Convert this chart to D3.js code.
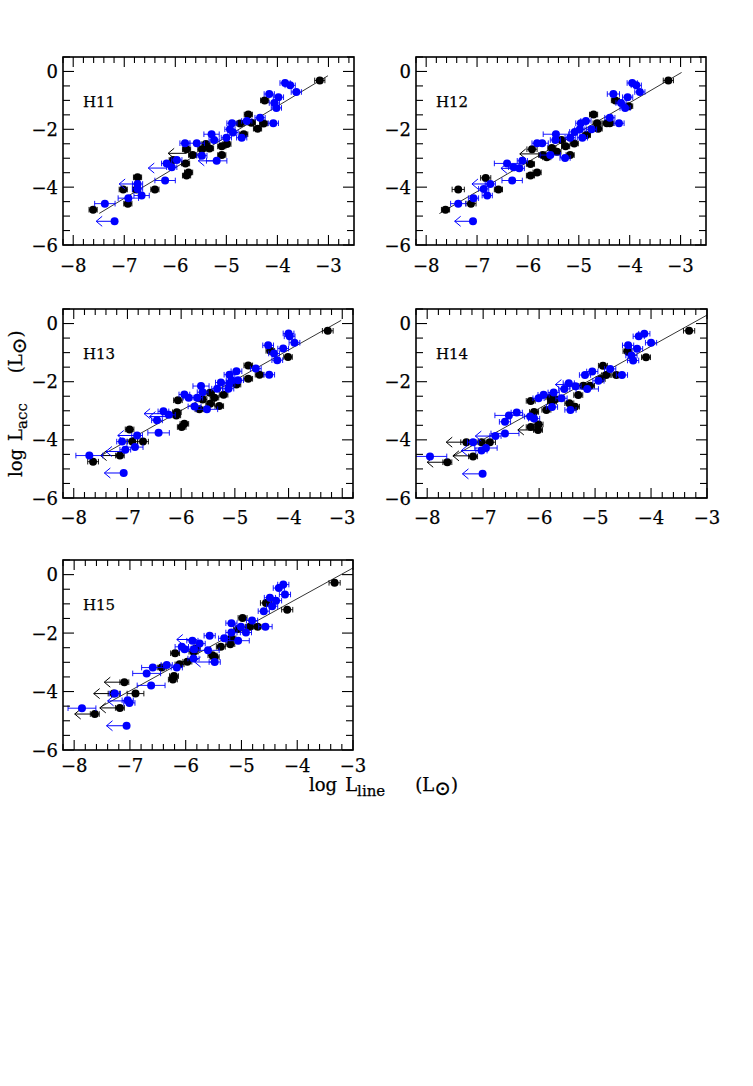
<!DOCTYPE html>
<html><head><meta charset="utf-8">
<script src="https://cdn.jsdelivr.net/npm/d3@7"></script>
<style>
body{margin:0;background:#fff}
svg{display:block}
text{font-family:"DejaVu Serif","Liberation Serif",serif;fill:#000;stroke:#000;stroke-width:0.25}
</style>
</head><body>
<svg id="chart" width="753" height="1086"></svg>
<script>
// ---------------- DATA ----------------
const panelNames = ["H11","H12","H13","H14","H15"];
const xTickValues = [-8,-7,-6,-5,-4,-3];
const yTickValues = [0,-2,-4,-6];

// [log Lline, log Lacc, error on log Lline]
const h11Black = [[-3.17,-0.31,0.1],[-4.25,-1.00,0.08],[-4.57,-1.49,0.08],[-4.73,-1.80,0.08],[-4.51,-1.77,0.08],
 [-4.39,-1.98,0.08],[-4.27,-1.80,0.08],[-4.66,-2.17,0.08],[-4.99,-2.51,0.08],[-5.09,-2.59,0.08],[-5.09,-2.89,0.08],
 [-5.33,-2.66,0.08],[-5.40,-2.51,0.08],[-5.48,-2.69,0.08],[-5.66,-2.89,0.08],[-5.78,-2.69,0.08],[-5.80,-3.18,0.08],
 [-5.74,-3.49,0.08],[-5.78,-3.60,0.08],[-6.04,-3.06,0.08],[-6.74,-3.66,0.08],[-7.02,-4.08,0.08],[-6.76,-4.08,0.08],
 [-6.40,-4.08,0.08],[-6.93,-4.57,0.08],[-7.61,-4.78,0.08]];
const h11Blue = [[-3.85,-0.40,0.1],[-3.75,-0.48,0.1],[-3.63,-0.71,0.1],[-4.16,-0.78,0.1],[-3.98,-0.89,0.1],
 [-4.06,-1.09,0.1],[-4.02,-1.26,0.1],[-4.34,-1.60,0.1],[-4.60,-1.71,0.1],[-4.89,-1.79,0.1],[-4.08,-1.79,0.1],
 [-4.93,-2.00,0.1],[-4.87,-2.11,0.1],[-4.70,-2.29,0.1],[-5.00,-2.29,0.1],[-5.29,-2.17,0.15],[-5.24,-2.37,0.1],
 [-5.81,-2.48,0.1],[-5.58,-2.48,0.15],[-5.48,-2.91,0.1],[-5.19,-3.09,0.2],[-5.97,-3.06,0.1],[-6.17,-3.18,0.1],
 [-6.07,-3.31,0.1],[-6.20,-3.77,0.2],[-6.74,-3.89,0.1],[-6.74,-4.06,0.1],[-6.66,-4.29,0.15],[-6.92,-4.38,0.2],
 [-7.38,-4.57,0.2],[-7.19,-5.18,0]];
const h11BlackLim = [[-5.78,-2.83]];
const h11BlueLim = [[-7.19,-5.18],[-6.74,-3.89],[-6.17,-3.34],[-5.19,-3.09]];
const h11Fit = [1.0625,3.05,-7.49,-3.01]; // slope, intercept, x from, x to

const h12Black = [[-3.24,-0.31,0.1],[-4.28,-1.00,0.08],[-4.02,-1.20,0.08],[-4.71,-1.49,0.08],[-4.64,-1.79,0.08],
 [-4.45,-1.79,0.08],[-4.39,-1.79,0.08],[-4.62,-1.98,0.08],[-4.85,-2.20,0.08],[-5.09,-2.49,0.08],[-5.26,-2.59,0.08],
 [-5.34,-2.37,0.08],[-5.17,-2.89,0.08],[-5.43,-2.78,0.08],[-5.53,-2.65,0.08],[-5.71,-2.89,0.08],[-5.63,-2.97,0.08],
 [-5.92,-2.69,0.1],[-5.95,-3.20,0.08],[-5.82,-3.49,0.08],[-5.95,-3.60,0.08],[-6.83,-3.68,0.1],[-7.37,-4.08,0.12],
 [-6.58,-4.08,0.08],[-7.12,-4.57,0.1],[-7.62,-4.78,0.08]];
const h12Blue = [[-3.95,-0.40,0.1],[-3.87,-0.48,0.1],[-3.80,-0.71,0.1],[-4.32,-0.78,0.12],[-4.04,-0.89,0.1],
 [-4.17,-1.09,0.1],[-4.09,-1.26,0.1],[-4.39,-1.60,0.1],[-4.86,-1.71,0.1],[-4.96,-1.79,0.1],[-4.21,-1.79,0.1],
 [-4.98,-2.00,0.1],[-5.08,-2.09,0.1],[-4.75,-2.00,0.1],[-4.93,-2.29,0.1],[-5.17,-2.29,0.1],[-5.45,-2.17,0.25],
 [-5.46,-2.37,0.1],[-5.72,-2.48,0.12],[-5.82,-2.48,0.1],[-5.56,-2.89,0.2],[-5.27,-2.99,0.1],[-6.11,-3.09,0.1],
 [-6.41,-3.18,0.25],[-6.28,-3.31,0.1],[-6.17,-3.35,0.1],[-6.31,-3.77,0.2],[-6.74,-3.89,0.1],[-6.87,-4.06,0.1],
 [-6.80,-4.29,0.1],[-7.07,-4.38,0.1],[-7.37,-4.57,0.15],[-7.08,-5.18,0]];
const h12BlackLim = [[-5.80,-2.85]];
const h12BlueLim = [[-7.08,-5.18],[-6.74,-3.89],[-6.17,-3.35]];
const h12Fit = [1.025,3.02,-7.74,-2.98];

const h13Black = [[-3.27,-0.25,0.1],[-4.01,-1.15,0.08],[-4.34,-0.94,0.08],[-4.75,-1.44,0.08],[-4.54,-1.76,0.08],
 [-4.75,-1.90,0.08],[-4.97,-2.10,0.08],[-5.21,-2.45,0.08],[-5.29,-2.84,0.08],[-5.38,-2.55,0.08],[-5.46,-2.38,0.08],
 [-5.46,-2.76,0.08],[-5.60,-2.61,0.08],[-5.66,-2.95,0.08],[-6.06,-2.64,0.08],[-6.08,-3.05,0.08],[-6.09,-3.16,0.08],
 [-5.94,-3.45,0.08],[-5.99,-3.56,0.08],[-6.96,-3.64,0.08],[-6.91,-4.06,0.1],[-6.71,-4.06,0.1],[-7.14,-4.54,0.08],
 [-7.64,-4.75,0.1]];
const h13Blue = [[-4.00,-0.34,0.1],[-3.98,-0.44,0.1],[-3.89,-0.66,0.1],[-4.38,-0.75,0.1],[-4.10,-0.86,0.1],
 [-4.27,-1.03,0.1],[-4.21,-1.26,0.1],[-4.61,-1.55,0.1],[-4.97,-1.64,0.1],[-5.10,-1.76,0.1],[-4.36,-1.76,0.1],
 [-4.94,-1.95,0.1],[-5.06,-1.95,0.1],[-5.10,-2.07,0.1],[-5.26,-2.03,0.1],[-5.12,-2.24,0.1],[-5.33,-2.24,0.1],
 [-5.63,-2.15,0.15],[-5.60,-2.36,0.1],[-5.94,-2.44,0.1],[-5.86,-2.55,0.1],[-5.70,-2.55,0.1],[-5.75,-2.85,0.12],
 [-5.52,-2.95,0.2],[-6.33,-3.02,0.1],[-6.23,-3.14,0.12],[-6.45,-3.33,0.1],[-6.42,-3.76,0.2],[-6.82,-3.85,0.1],
 [-7.10,-4.06,0.1],[-6.86,-4.25,0.15],[-7.04,-4.34,0.1],[-7.71,-4.54,0.25],[-7.07,-5.14,0]];
const h13BlackLim = [[-7.14,-4.54]];
const h13BlueLim = [[-7.07,-5.14],[-6.82,-3.85],[-6.33,-3.10],[-6.23,-3.20],[-7.04,-4.40]];
const h13Fit = [1.04,3.25,-7.49,-3.02];

const h14Black = [[-3.32,-0.25,0.1],[-4.09,-1.16,0.08],[-4.42,-0.95,0.08],[-4.86,-1.45,0.08],[-4.62,-1.77,0.08],
 [-4.80,-1.77,0.08],[-4.90,-1.91,0.08],[-5.09,-2.14,0.08],[-5.21,-2.14,0.08],[-5.30,-2.46,0.08],[-5.36,-2.86,0.08],
 [-5.46,-2.74,0.08],[-5.71,-2.60,0.08],[-5.77,-2.69,0.08],[-5.80,-2.54,0.08],[-5.87,-2.97,0.08],[-6.15,-2.66,0.08],
 [-6.09,-3.04,0.08],[-6.01,-3.47,0.08],[-6.15,-3.56,0.08],[-6.02,-3.66,0.08],[-7.30,-4.08,0.1],[-6.88,-4.08,0.1],
 [-7.18,-4.57,0.08],[-7.64,-4.77,0.08],[-7.03,-4.08,0.08]];
const h14Blue = [[-4.12,-0.35,0.1],[-4.22,-0.44,0.1],[-4.00,-0.66,0.1],[-4.41,-0.75,0.1],[-4.25,-0.87,0.1],
 [-4.35,-1.10,0.1],[-4.32,-1.27,0.1],[-4.73,-1.56,0.1],[-5.05,-1.65,0.1],[-5.18,-1.77,0.1],[-4.52,-1.77,0.1],
 [-4.94,-1.97,0.1],[-5.14,-2.25,0.2],[-5.47,-2.05,0.1],[-5.35,-2.16,0.1],[-5.55,-2.25,0.1],[-5.74,-2.37,0.1],
 [-5.92,-2.45,0.1],[-6.01,-2.57,0.1],[-5.60,-2.57,0.1],[-5.77,-2.87,0.1],[-5.44,-2.97,0.1],[-6.40,-3.06,0.1],
 [-6.54,-3.16,0.25],[-6.16,-3.20,0.1],[-6.09,-3.27,0.1],[-6.61,-3.38,0.1],[-6.61,-3.78,0.25],[-6.78,-3.87,0.1],
 [-7.18,-4.08,0.1],[-6.95,-4.28,0.2],[-7.03,-4.37,0.1],[-7.95,-4.57,0.3],[-7.01,-5.17,0]];
const h14BlackLim = [[-7.30,-4.08],[-7.64,-4.77],[-7.18,-4.55],[-6.02,-3.66]];
const h14BlueLim = [[-7.01,-5.17],[-6.78,-3.87],[-7.03,-4.37],[-5.35,-2.10]];
const h14Fit = [1.07,3.50,-7.54,-3.00];

const h15Black = [[-3.33,-0.28,0.1],[-4.18,-1.20,0.1],[-4.56,-0.97,0.1],[-4.98,-1.48,0.08],[-4.71,-1.78,0.08],
 [-4.85,-1.78,0.08],[-5.06,-1.86,0.08],[-5.18,-2.18,0.08],[-5.20,-2.38,0.08],[-5.37,-2.47,0.08],[-5.52,-2.76,0.08],
 [-5.48,-2.82,0.08],[-5.82,-2.53,0.08],[-5.86,-2.64,0.08],[-5.97,-2.98,0.08],[-6.11,-3.07,0.08],[-6.19,-2.69,0.08],
 [-6.21,-3.47,0.08],[-6.23,-3.59,0.08],[-6.43,-3.18,0.08],[-7.10,-3.68,0.08],[-7.29,-4.07,0.1],[-6.90,-4.07,0.15],
 [-7.18,-4.56,0.08],[-7.63,-4.77,0.08]];
const h15Blue = [[-4.25,-0.34,0.1],[-4.33,-0.46,0.1],[-4.22,-0.68,0.1],[-4.49,-0.79,0.1],[-4.38,-0.89,0.1],
 [-4.45,-1.08,0.1],[-4.60,-1.25,0.1],[-4.81,-1.57,0.1],[-5.18,-1.66,0.1],[-5.01,-1.78,0.1],[-4.57,-1.78,0.12],
 [-5.18,-1.98,0.1],[-4.92,-1.98,0.1],[-5.31,-2.18,0.1],[-5.06,-2.26,0.2],[-5.57,-2.09,0.1],[-5.88,-2.26,0.1],
 [-5.75,-2.36,0.1],[-6.07,-2.47,0.12],[-6.02,-2.55,0.1],[-5.85,-2.55,0.1],[-5.86,-2.87,0.1],[-5.60,-2.59,0.2],
 [-5.48,-2.99,0.1],[-6.34,-3.09,0.1],[-6.59,-3.18,0.2],[-6.16,-3.18,0.1],[-6.70,-3.38,0.25],[-6.62,-3.79,0.25],
 [-7.27,-4.07,0.1],[-7.04,-4.30,0.1],[-7.01,-4.39,0.1],[-7.86,-4.57,0.25],[-7.06,-5.17,0]];
const h15BlackLim = [[-7.10,-3.68],[-7.29,-4.07],[-7.63,-4.77],[-7.18,-4.56]];
const h15BlueLim = [[-7.06,-5.17],[-7.04,-4.32],[-5.48,-2.99],[-5.80,-2.22]];
const h15Fit = [1.051,3.38,-7.50,-3.00];

// ---------------- LAYOUT ----------------
const panelData = [
  {black:h11Black, blue:h11Blue, blackLim:h11BlackLim, blueLim:h11BlueLim, fit:h11Fit},
  {black:h12Black, blue:h12Blue, blackLim:h12BlackLim, blueLim:h12BlueLim, fit:h12Fit},
  {black:h13Black, blue:h13Blue, blackLim:h13BlackLim, blueLim:h13BlueLim, fit:h13Fit},
  {black:h14Black, blue:h14Blue, blackLim:h14BlackLim, blueLim:h14BlueLim, fit:h14Fit},
  {black:h15Black, blue:h15Blue, blackLim:h15BlackLim, blueLim:h15BlueLim, fit:h15Fit}
];
const boxes = [
  {left:63,  top:57,  width:291, height:188, xDomain:[-8.2,-2.5], lab:27},
  {left:416, top:57,  width:290, height:188, xDomain:[-8.2,-2.5], lab:27},
  {left:63,  top:309, width:290, height:189, xDomain:[-8.2,-2.8], lab:26},
  {left:416, top:309, width:291, height:189, xDomain:[-8.2,-3.0], lab:26},
  {left:63,  top:560, width:290, height:190, xDomain:[-8.2,-3.0], lab:22}
];
const yDomain = [-6, 0.5];
const BLUE = "#0000ff";
const fmt = d => (d < 0 ? "\u2212" : "") + Math.abs(d);

const svg = d3.select("#chart");

panelData.forEach((pd, i) => {
  const b = boxes[i];
  const x = d3.scaleLinear().domain(b.xDomain).range([b.left, b.left + b.width]);
  const y = d3.scaleLinear().domain(yDomain).range([b.top + b.height, b.top]);
  const g = svg.append("g");

  const clipId = "clip" + i;
  svg.append("clipPath").attr("id", clipId).append("rect")
    .attr("x", b.left).attr("y", b.top).attr("width", b.width).attr("height", b.height);
  const marks = g.append("g").attr("clip-path", `url(#${clipId})`);

  // fit line
  const f = pd.fit;
  marks.append("line")
    .attr("x1", x(f[2])).attr("y1", y(f[0]*f[2] + f[1]))
    .attr("x2", x(f[3])).attr("y2", y(f[0]*f[3] + f[1]))
    .attr("stroke", "#000").attr("stroke-width", 0.8);

  function drawSeries(pts, lims, color) {
    const sg = marks.append("g");
    pts.filter(p => p[2] > 0).forEach(p => {
      const x0 = x(p[0] - p[2]), x1 = x(p[0] + p[2]), yy = y(p[1]);
      sg.append("line").attr("x1", x0).attr("x2", x1).attr("y1", yy).attr("y2", yy)
        .attr("stroke", color).attr("stroke-width", 0.9);
      [x0, x1].forEach(xx => sg.append("line").attr("x1", xx).attr("x2", xx)
        .attr("y1", yy - 2.8).attr("y2", yy + 2.8).attr("stroke", color).attr("stroke-width", 0.9));
    });
    lims.forEach(l => {
      const xs = x(l[0]), xt = x(l[0] - 0.36), yy = y(l[1]);
      sg.append("line").attr("x1", xs).attr("x2", xt).attr("y1", yy).attr("y2", yy)
        .attr("stroke", color).attr("stroke-width", 1);
      sg.append("path").attr("d", `M${xt + 6},${yy - 5}L${xt},${yy}L${xt + 6},${yy + 5}`)
        .attr("fill", "none").attr("stroke", color).attr("stroke-width", 1);
    });
    sg.selectAll("circle").data(pts).join("circle")
      .attr("cx", p => x(p[0])).attr("cy", p => y(p[1])).attr("r", 4)
      .attr("fill", color);
  }
  drawSeries(pd.black, pd.blackLim, "#000");
  drawSeries(pd.blue, pd.blueLim, BLUE);

  // frame
  g.append("rect").attr("x", b.left).attr("y", b.top).attr("width", b.width).attr("height", b.height)
    .attr("fill", "none").attr("stroke", "#000").attr("stroke-width", 1.6);

  // ticks
  const xt = d3.range(Math.ceil(b.xDomain[0]*5), Math.floor(b.xDomain[1]*5) + 1).map(k => k/5);
  xt.forEach(v => {
    const major = Math.abs(v - Math.round(v)) < 1e-6;
    const L = major ? 10 : 6, xx = x(v);
    g.append("line").attr("x1", xx).attr("x2", xx).attr("y1", b.top + b.height).attr("y2", b.top + b.height - L)
      .attr("stroke", "#000").attr("stroke-width", 1.1);
    g.append("line").attr("x1", xx).attr("x2", xx).attr("y1", b.top).attr("y2", b.top + L)
      .attr("stroke", "#000").attr("stroke-width", 1.1);
  });
  const yt = d3.range(Math.ceil(yDomain[0]*2), Math.floor(yDomain[1]*2) + 1).map(k => k/2);
  yt.forEach(v => {
    const major = Math.abs(v/2 - Math.round(v/2)) < 1e-6;
    const L = major ? 11 : 7, yy = y(v);
    g.append("line").attr("y1", yy).attr("y2", yy).attr("x1", b.left).attr("x2", b.left + L)
      .attr("stroke", "#000").attr("stroke-width", 1.1);
    g.append("line").attr("y1", yy).attr("y2", yy).attr("x1", b.left + b.width).attr("x2", b.left + b.width - L)
      .attr("stroke", "#000").attr("stroke-width", 1.1);
  });

  // tick labels
  g.selectAll("text.xl").data(xTickValues).join("text").attr("class", "xl")
    .attr("x", d => x(d)).attr("y", b.top + b.height + b.lab)
    .attr("text-anchor", "middle").attr("font-size", 18).text(fmt);
  g.selectAll("text.yl").data(yTickValues).join("text").attr("class", "yl")
    .attr("x", b.left - 5).attr("y", d => y(d) + 6.5)
    .attr("text-anchor", "end").attr("font-size", 18).text(fmt);

  // panel name
  g.append("text").attr("x", b.left + 20).attr("y", b.top + 50)
    .attr("font-size", 15).text(panelNames[i]);
});

// axis titles
function axisTitle(sel, sub) {
  sel.append("tspan").text("log");
  sel.append("tspan").attr("dx", 8).text("L");
  sel.append("tspan").attr("font-size", 15).attr("dy", 5).text(sub);
  sel.append("tspan").attr("dx", 30).attr("dy", -5).text("(L");
  sel.append("tspan").attr("font-size", 20).attr("dy", 4).text("\u2299");
  sel.append("tspan").attr("dy", -4).text(")");
}
const yl = svg.append("text").attr("transform", "translate(22,477) rotate(-90)")
  .attr("font-size", 18);
axisTitle(yl, "acc");

const xl = svg.append("text").attr("x", 309).attr("y", 791).attr("font-size", 18);
axisTitle(xl, "line");
</script>
</body></html>
